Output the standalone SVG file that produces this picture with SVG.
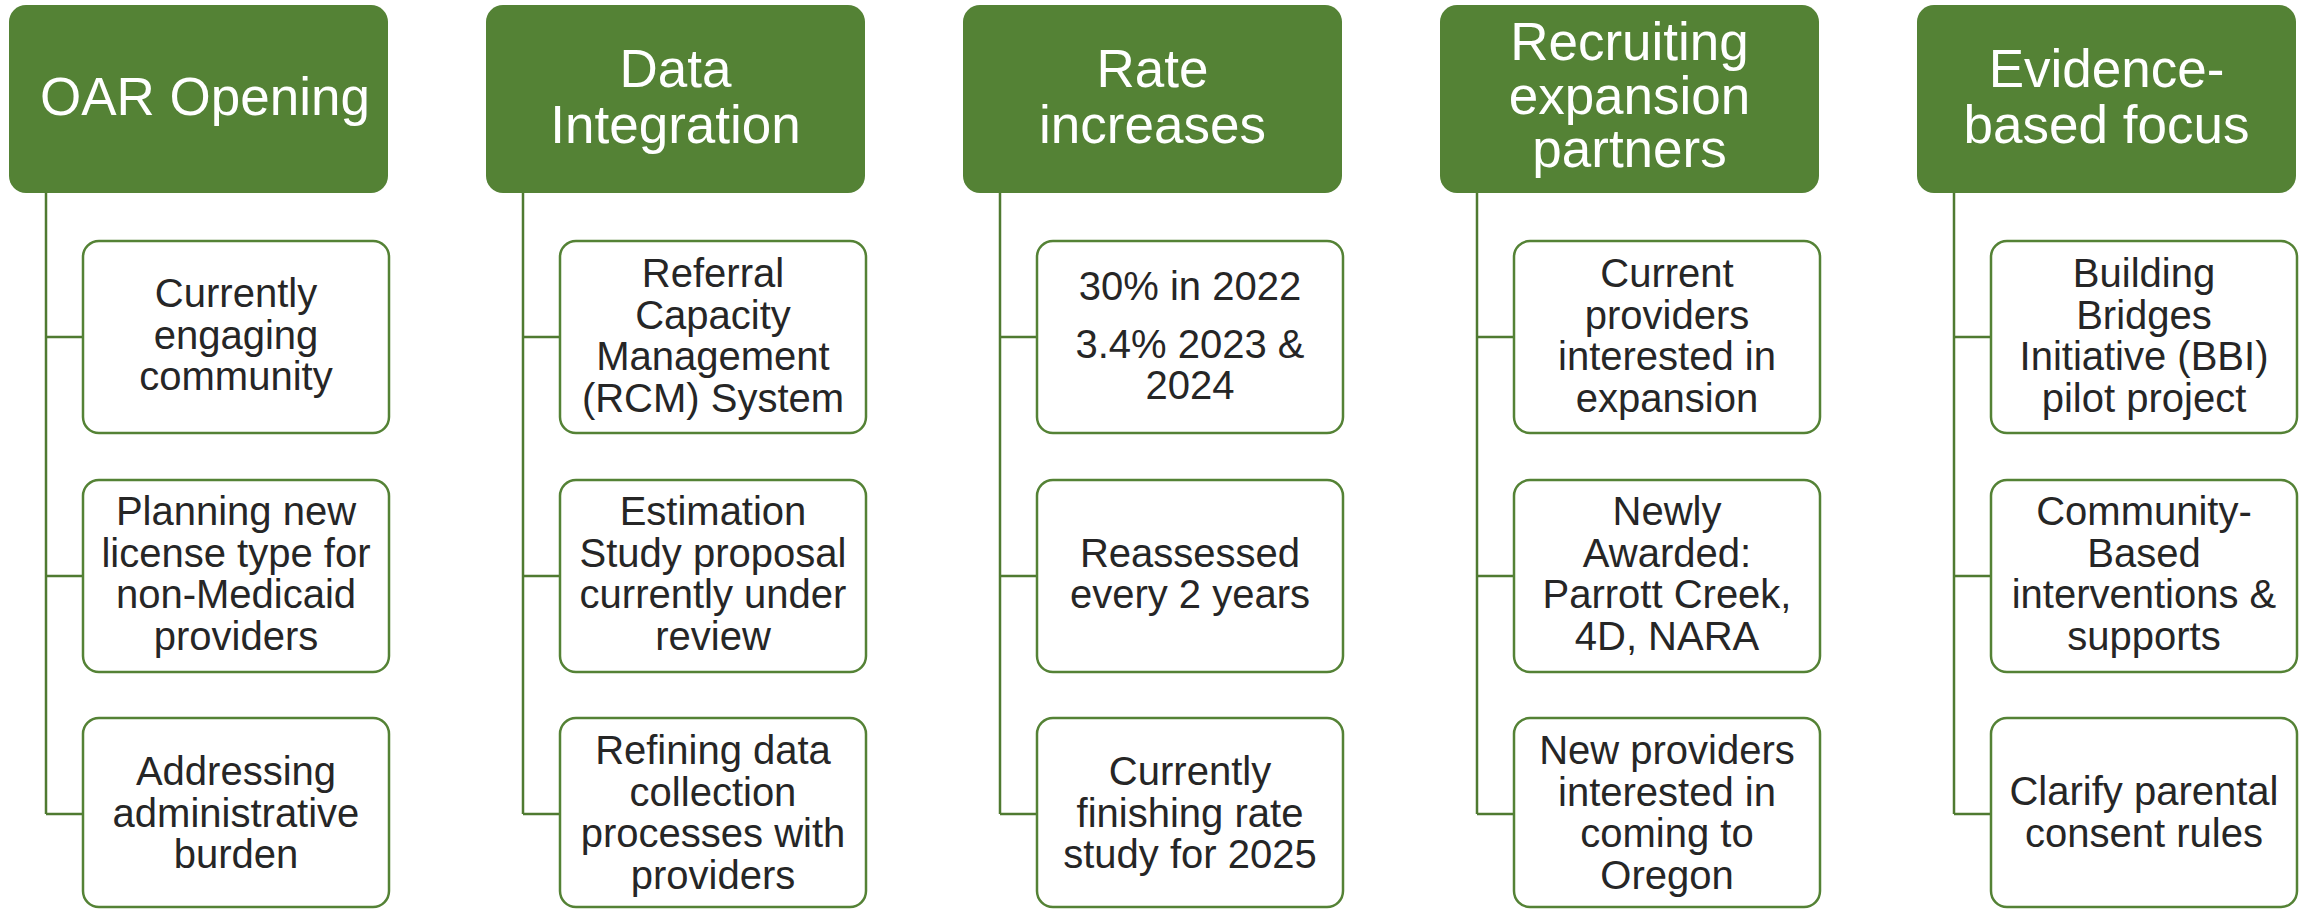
<svg xmlns="http://www.w3.org/2000/svg" width="2305" height="909" viewBox="0 0 2305 909">
<style>
.hdr{fill:#548235}
.child{fill:#fff;stroke:#548235;stroke-width:2.5}
.ht{font-family:"Liberation Sans",Arial,sans-serif;font-size:53px;fill:#fff;text-anchor:middle}
.ct{font-family:"Liberation Sans",Arial,sans-serif;font-size:40px;fill:#262626;text-anchor:middle}
.conn{fill:none;stroke:#4f7a31;stroke-width:2.5}
</style>
<rect width="2305" height="909" fill="#fff"/>
<g id="connectors">
<path class="conn" d="M46,193 V814 M46,337 H83 M46,576 H83 M46,814 H83"/>
<path class="conn" d="M523,193 V814 M523,337 H560 M523,576 H560 M523,814 H560"/>
<path class="conn" d="M1000,193 V814 M1000,337 H1037 M1000,576 H1037 M1000,814 H1037"/>
<path class="conn" d="M1477,193 V814 M1477,337 H1514 M1477,576 H1514 M1477,814 H1514"/>
<path class="conn" d="M1954,193 V814 M1954,337 H1991 M1954,576 H1991 M1954,814 H1991"/>
</g>
<!-- Column 1 -->
<g id="h1"><rect class="hdr" x="9" y="5" width="379" height="188" rx="17"/><text class="ht" x="205" y="115">OAR Opening</text></g>
<g id="c1a"><rect class="child" x="83" y="241" width="306" height="192" rx="16"/><text class="ct"><tspan x="236" y="307">Currently</tspan><tspan x="236" y="348.5">engaging</tspan><tspan x="236" y="390">community</tspan></text></g>
<g id="c1b"><rect class="child" x="83" y="480" width="306" height="192" rx="16"/><text class="ct"><tspan x="236" y="525">Planning new</tspan><tspan x="236" y="566.5">license type for</tspan><tspan x="236" y="608">non-Medicaid</tspan><tspan x="236" y="649.5">providers</tspan></text></g>
<g id="c1c"><rect class="child" x="83" y="718" width="306" height="189" rx="16"/><text class="ct"><tspan x="236" y="785">Addressing</tspan><tspan x="236" y="826.5">administrative</tspan><tspan x="236" y="868">burden</tspan></text></g>
<!-- Column 2 -->
<g id="h2"><rect class="hdr" x="486" y="5" width="379" height="188" rx="17"/><text class="ht"><tspan x="675.5" y="87">Data</tspan><tspan x="675.5" y="143">Integration</tspan></text></g>
<g id="c2a"><rect class="child" x="560" y="241" width="306" height="192" rx="16"/><text class="ct"><tspan x="713" y="287">Referral</tspan><tspan x="713" y="328.5">Capacity</tspan><tspan x="713" y="370">Management</tspan><tspan x="713" y="411.5">(RCM) System</tspan></text></g>
<g id="c2b"><rect class="child" x="560" y="480" width="306" height="192" rx="16"/><text class="ct"><tspan x="713" y="525">Estimation</tspan><tspan x="713" y="566.5">Study proposal</tspan><tspan x="713" y="608">currently under</tspan><tspan x="713" y="649.5">review</tspan></text></g>
<g id="c2c"><rect class="child" x="560" y="718" width="306" height="189" rx="16"/><text class="ct"><tspan x="713" y="764">Refining data</tspan><tspan x="713" y="805.5">collection</tspan><tspan x="713" y="847">processes with</tspan><tspan x="713" y="888.5">providers</tspan></text></g>
<!-- Column 3 -->
<g id="h3"><rect class="hdr" x="963" y="5" width="379" height="188" rx="17"/><text class="ht"><tspan x="1152.5" y="87">Rate</tspan><tspan x="1152.5" y="143">increases</tspan></text></g>
<g id="c3a"><rect class="child" x="1037" y="241" width="306" height="192" rx="16"/><text class="ct"><tspan x="1190" y="300">30% in 2022</tspan><tspan x="1190" y="358">3.4% 2023 &amp;</tspan><tspan x="1190" y="399">2024</tspan></text></g>
<g id="c3b"><rect class="child" x="1037" y="480" width="306" height="192" rx="16"/><text class="ct"><tspan x="1190" y="567">Reassessed</tspan><tspan x="1190" y="608">every 2 years</tspan></text></g>
<g id="c3c"><rect class="child" x="1037" y="718" width="306" height="189" rx="16"/><text class="ct"><tspan x="1190" y="785">Currently</tspan><tspan x="1190" y="826.5">finishing rate</tspan><tspan x="1190" y="868">study for 2025</tspan></text></g>
<!-- Column 4 -->
<g id="h4"><rect class="hdr" x="1440" y="5" width="379" height="188" rx="17"/><text class="ht"><tspan x="1629.5" y="60">Recruiting</tspan><tspan x="1629.5" y="113.5">expansion</tspan><tspan x="1629.5" y="167">partners</tspan></text></g>
<g id="c4a"><rect class="child" x="1514" y="241" width="306" height="192" rx="16"/><text class="ct"><tspan x="1667" y="287">Current</tspan><tspan x="1667" y="328.5">providers</tspan><tspan x="1667" y="370">interested in</tspan><tspan x="1667" y="411.5">expansion</tspan></text></g>
<g id="c4b"><rect class="child" x="1514" y="480" width="306" height="192" rx="16"/><text class="ct"><tspan x="1667" y="525">Newly</tspan><tspan x="1667" y="566.5">Awarded:</tspan><tspan x="1667" y="608">Parrott Creek,</tspan><tspan x="1667" y="649.5">4D, NARA</tspan></text></g>
<g id="c4c"><rect class="child" x="1514" y="718" width="306" height="189" rx="16"/><text class="ct"><tspan x="1667" y="764">New providers</tspan><tspan x="1667" y="805.5">interested in</tspan><tspan x="1667" y="847">coming to</tspan><tspan x="1667" y="888.5">Oregon</tspan></text></g>
<!-- Column 5 -->
<g id="h5"><rect class="hdr" x="1917" y="5" width="379" height="188" rx="17"/><text class="ht"><tspan x="2106.5" y="87">Evidence-</tspan><tspan x="2106.5" y="143">based focus</tspan></text></g>
<g id="c5a"><rect class="child" x="1991" y="241" width="306" height="192" rx="16"/><text class="ct"><tspan x="2144" y="287">Building</tspan><tspan x="2144" y="328.5">Bridges</tspan><tspan x="2144" y="370">Initiative (BBI)</tspan><tspan x="2144" y="411.5">pilot project</tspan></text></g>
<g id="c5b"><rect class="child" x="1991" y="480" width="306" height="192" rx="16"/><text class="ct"><tspan x="2144" y="525">Community-</tspan><tspan x="2144" y="566.5">Based</tspan><tspan x="2144" y="608">interventions &amp;</tspan><tspan x="2144" y="649.5">supports</tspan></text></g>
<g id="c5c"><rect class="child" x="1991" y="718" width="306" height="189" rx="16"/><text class="ct"><tspan x="2144" y="805">Clarify parental</tspan><tspan x="2144" y="847">consent rules</tspan></text></g>
</svg>
